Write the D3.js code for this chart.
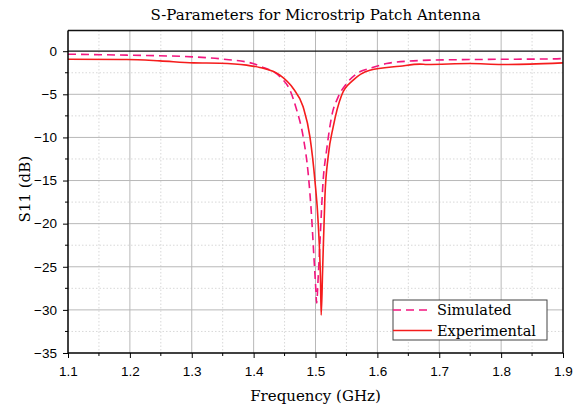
<!DOCTYPE html>
<html lang="en">
<head>
  <meta charset="utf-8">
    <title>S-Parameters for Microstrip Patch Antenna</title>
    <script type="text/javascript" src="https://d3js.org/d3.v7.min.js"></script>
    <style type="text/css">
      body { margin: 0; background: #fff; }
      .tick text { font-family: "Liberation Sans", Arial, sans-serif; font-size: 13.5px; fill: #000; }
    </style>
</head>
<body>
  <script type="text/javascript">

        // simulated S11 (dashed)
        var simFreq = [1.1, 1.195, 1.302, 1.356, 1.399, 1.41, 1.4425, 1.4586, 1.4695, 1.4801, 1.4882,
                       1.4937, 1.4974, 1.5006, 1.5018, 1.5044, 1.5071, 1.5124, 1.5179, 1.526, 1.5367,
                       1.5502, 1.5717, 1.5879, 1.6149, 1.6578, 1.6848, 1.78, 1.885, 1.9];
        var simS11 = [-0.35, -0.46, -0.66, -0.96, -1.43, -1.74, -2.97, -4.5, -6.8, -9.93, -14.2,
                      -19.2, -23.8, -27.7, -29.2, -26.15, -22.3, -14.95, -11.5, -7.6, -5.3,
                      -3.75, -2.39, -2.0, -1.43, -1.12, -1.04, -0.95, -0.89, -0.85];

        // experimental S11 (solid)
        var expFreq = [1.1, 1.195, 1.2486, 1.3024, 1.3456, 1.3887, 1.41, 1.4425, 1.464, 1.48, 1.491,
                       1.499, 1.5044, 1.5082, 1.5092, 1.5115, 1.5152, 1.5205, 1.5286, 1.5422, 1.5609,
                       1.5879, 1.6364, 1.6687, 1.68, 1.7494, 1.8006, 1.8464, 1.9];
        var expS11 = [-0.93, -0.96, -1.12, -1.35, -1.39, -1.62, -1.89, -2.78, -4.33, -6.45, -9.93,
                      -14.95, -19.97, -26.9, -30.6, -25.4, -16.9, -12.2, -8.77, -5.1, -3.36,
                      -2.2, -1.74, -1.5, -1.54, -1.43, -1.54, -1.5, -1.35];

        var xTicks = [1.1, 1.2, 1.3, 1.4, 1.5, 1.6, 1.7, 1.8, 1.9];
        var yTicks = [0, -5, -10, -15, -20, -25, -30, -35];
        var seriesNames = ["Simulated", "Experimental"];

        var width = 587, height = 410;
        var margin = {top: 30.5, right: 24, bottom: 57, left: 68};
        var w = width - margin.left - margin.right;
        var h = height - margin.top - margin.bottom;

        var svg = d3.select("body")
            .append("svg")
            .attr("width", width)
            .attr("height", height);

        var g = svg.append("g")
            .attr("transform", "translate(" + margin.left + "," + margin.top + ")");

        var x = d3.scaleLinear().domain([1.1, 1.9]).range([0, w]);
        var y = d3.scaleLinear().domain([-35, 2.4]).range([h, 0]);

        var minorX = d3.range(1.15, 1.9, 0.1);
        var minorY = d3.range(-32.5, 2, 5);

        // grid
        g.selectAll(".gx-minor").data(minorX).enter().append("line")
            .attr("x1", d => x(d)).attr("x2", d => x(d))
            .attr("y1", 0).attr("y2", h)
            .attr("stroke", "#d8d8d8").attr("stroke-dasharray", "1.5,2");
        g.selectAll(".gy-minor").data(minorY).enter().append("line")
            .attr("x1", 0).attr("x2", w)
            .attr("y1", d => y(d)).attr("y2", d => y(d))
            .attr("stroke", "#d8d8d8").attr("stroke-dasharray", "1.5,2");
        g.selectAll(".gx").data(xTicks.slice(1, -1)).enter().append("line")
            .attr("x1", d => x(d)).attr("x2", d => x(d))
            .attr("y1", 0).attr("y2", h)
            .attr("stroke", "#b8b8b8");
        g.selectAll(".gy").data(yTicks.slice(1, -1)).enter().append("line")
            .attr("x1", 0).attr("x2", w)
            .attr("y1", d => y(d)).attr("y2", d => y(d))
            .attr("stroke", "#b8b8b8");
        g.append("line")
            .attr("x1", 0).attr("x2", w)
            .attr("y1", y(0)).attr("y2", y(0))
            .attr("stroke", "#111").attr("stroke-width", 1.3);

        // curves
        var line = d3.line()
            .x(d => x(d[0]))
            .y(d => y(d[1]))
            .curve(d3.curveMonotoneX);

        var simData = d3.zip(simFreq, simS11);
        var expData = d3.zip(expFreq, expS11);

        g.append("path")
            .datum(simData)
            .attr("d", line)
            .attr("fill", "none")
            .attr("stroke", "#f2167f")
            .attr("stroke-width", 1.6)
            .attr("stroke-dasharray", "8,5");

        g.append("path")
            .datum(expData)
            .attr("d", line)
            .attr("fill", "none")
            .attr("stroke", "#f51c1c")
            .attr("stroke-width", 1.6);

        // frame
        g.append("line").attr("x1", 0).attr("x2", w).attr("y1", 0).attr("y2", 0)
            .attr("stroke", "#111").attr("stroke-width", 1.5);
        g.append("line").attr("x1", w).attr("x2", w).attr("y1", 0).attr("y2", h)
            .attr("stroke", "#111").attr("stroke-width", 1.5);

        // axes
        var xAxis = g.append("g")
            .attr("transform", "translate(0," + h + ")")
            .call(d3.axisBottom(x).tickValues(xTicks).tickSize(5).tickPadding(8).tickFormat(d3.format(".1f")));
        xAxis.selectAll(".mx").data(minorX).enter().append("line")
            .attr("x1", d => x(d)).attr("x2", d => x(d))
            .attr("y1", 0).attr("y2", 3).attr("stroke", "#000");

        var yAxis = g.append("g")
            .call(d3.axisLeft(y).tickValues(yTicks).tickSize(5).tickPadding(6).tickFormat(d3.format("d")));
        yAxis.selectAll(".my").data(minorY).enter().append("line")
            .attr("x1", 0).attr("x2", -3)
            .attr("y1", d => y(d)).attr("y2", d => y(d)).attr("stroke", "#000");

        [xAxis, yAxis].forEach(function(a) {
            a.select(".domain").attr("stroke", "#000").attr("stroke-width", 1.5);
            a.selectAll(".tick line").attr("stroke", "#000");
        });
        yAxis.select(".domain").attr("d", "M0," + h + "V0");
        xAxis.select(".domain").attr("d", "M0,0H" + w);

        // titles
        svg.append("text")
            .attr("x", margin.left + w / 2)
            .attr("y", 20)
            .attr("text-anchor", "middle")
            .attr("font-family", "DejaVu Serif, serif")
            .attr("font-size", 15)
            .text("S-Parameters for Microstrip Patch Antenna");

        svg.append("text")
            .attr("x", margin.left + w / 2)
            .attr("y", 401)
            .attr("text-anchor", "middle")
            .attr("font-family", "DejaVu Serif, serif")
            .attr("font-size", 15)
            .text("Frequency (GHz)");

        svg.append("text")
            .attr("transform", "translate(30," + (margin.top + y(-16)) + ") rotate(-90)")
            .attr("text-anchor", "middle")
            .attr("font-family", "DejaVu Serif, serif")
            .attr("font-size", 15)
            .text("S11 (dB)");

        // legend
        var legend = svg.append("g").attr("transform", "translate(393,300)");
        legend.append("rect")
            .attr("width", 154).attr("height", 40)
            .attr("fill", "#fff").attr("stroke", "#444").attr("stroke-width", 1);
        var styles = [{c: "#f2167f", dash: "8,5"}, {c: "#f51c1c", dash: null}];
        seriesNames.forEach(function(name, i) {
            var ly = 10 + i * 20.5;
            legend.append("line")
                .attr("x1", 0).attr("x2", 39).attr("y1", ly).attr("y2", ly)
                .attr("stroke", styles[i].c).attr("stroke-width", 1.6)
                .attr("stroke-dasharray", styles[i].dash);
            legend.append("text")
                .attr("x", 44).attr("y", ly + 5)
                .attr("font-family", "DejaVu Serif, serif")
                .attr("font-size", 14.5)
                .text(name);
        });

  </script>
</body>
</html>
